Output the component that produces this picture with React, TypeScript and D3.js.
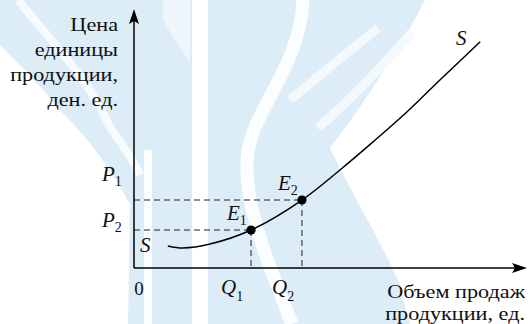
import React from "react";
import * as d3 from "d3";

// Supply curve S, in quantity / price units
const supplyQ = [0.89, 1.29, 2.0, 3.08, 4.42, 5.42, 6.29, 7.18, 8.05, 9.11];
const supplyP = [0.85, 0.77, 0.92, 1.46, 2.615, 3.77, 4.85, 6.0, 7.23, 8.7];

// Equilibrium points E1, E2
const eqNames = ["1", "2"];
const eqQ = [3.08, 4.42];
const eqP = [1.46, 2.615];

// Axis captions
const yCaption = ["Цена", "единицы", "продукции,", "ден. ед."];
const xCaption = ["Объем продаж", "продукции, ед."];

const W = 528;
const H = 324;
const BG = "#dcedf7";
const SERIF = '"Liberation Serif", "DejaVu Serif", "Times New Roman", serif';

export default function App() {
  const x = d3.scaleLinear().domain([0, 10]).range([134, 514]);
  const y = d3.scaleLinear().domain([0, 10]).range([268, 8]);

  const pts: [number, number][] = supplyQ.map((q, i) => [x(q), y(supplyP[i])]);
  const line = d3.line().curve(d3.curveCatmullRom.alpha(0.5));
  const sPath = line(pts) || "";

  const x0 = x(0);
  const y0 = y(0);
  const wide = 1.17;
  const ink = "#111";

  return (
    <svg
      width={W}
      height={H}
      viewBox={`0 0 ${W} ${H}`}
      style={{ position: "absolute", left: 0, top: 0, background: "#fff", fontFamily: SERIF }}
    >
      {/* background emblem */}
      <g>
        <path
          d="M0,0 L425,0 C405,40 360,110 330,148 C350,190 380,240 398,280 L410,324 L128,324 L130,205 C115,175 90,140 60,110 C40,85 15,60 0,45 Z"
          fill={BG}
        />
        <path
          d="M18,0 C50,40 90,80 110,127 C122,145 134,160 140,175"
          fill="none"
          stroke="#f6fbfe"
          strokeWidth={8}
        />
        <rect x={192} y={0} width={16} height={H} fill="#fff" />
        <rect x={144} y={150} width={8} height={H - 150} fill="#fbfdff" />
        <path d="M163,0 L190,0 L190,63 L175,40 L163,20 Z" fill="#eef6fb" />
        <path
          d="M303,0 C300,70 250,110 247,160 C245,210 268,262 292,324"
          fill="none"
          stroke="#fbfdfe"
          strokeWidth={13}
        />
        <path d="M290,100 C320,75 345,55 378,28" fill="none" stroke="#f4f9fc" strokeWidth={9} />
        <path d="M318,128 C350,100 380,70 412,32" fill="none" stroke="#f4f9fc" strokeWidth={9} />
      </g>

      {/* dashed guides */}
      {eqQ.map((q, i) => (
        <g key={`g${i}`} stroke="#222" strokeWidth={1} strokeDasharray="6,4" fill="none">
          <line x1={x0} y1={y(eqP[i])} x2={x(q)} y2={y(eqP[i])} />
          <line x1={x(q)} y1={y(eqP[i])} x2={x(q)} y2={y0} />
        </g>
      ))}

      {/* axes */}
      <line x1={x0} y1={y0} x2={x0} y2={18} stroke="#000" strokeWidth={1.5} />
      <path d={`M${x0},9 L${x0 + 5},24 L${x0},21 L${x0 - 5},24 Z`} fill="#000" />
      <line x1={x0} y1={y0} x2={518} y2={y0} stroke="#000" strokeWidth={1.5} />
      <path d={`M527,${y0} L512,${y0 - 5} L515,${y0} L512,${y0 + 5} Z`} fill="#000" />

      {/* supply curve */}
      <path d={sPath} fill="none" stroke="#000" strokeWidth={1.5} />

      {/* equilibrium dots */}
      {eqQ.map((q, i) => (
        <circle key={`c${i}`} cx={x(q)} cy={y(eqP[i])} r={4.6} fill="#000" />
      ))}

      {/* axis captions */}
      {yCaption.map((t, i) => (
        <text
          key={`yc${i}`}
          transform={`translate(118,${31 + i * 25}) scale(${wide},1)`}
          textAnchor="end"
          style={{ fontFamily: SERIF, fontSize: 19 }}
          fill={ink}
        >
          {t}
        </text>
      ))}
      {xCaption.map((t, i) => (
        <text
          key={`xc${i}`}
          transform={`translate(525,${298 + i * 22}) scale(${wide},1)`}
          textAnchor="end"
          style={{ fontFamily: SERIF, fontSize: 19 }}
          fill={ink}
        >
          {t}
        </text>
      ))}

      {/* origin */}
      <text x={139} y={295} textAnchor="middle" style={{ fontFamily: SERIF, fontSize: 19 }} fill={ink}>
        0
      </text>

      {/* price labels */}
      {eqP.map((p, i) => (
        <text
          key={`p${i}`}
          x={102}
          y={y(p) - (i === 1 ? 19 : 3)}
          style={{ fontFamily: SERIF, fontSize: 21 }}
          fill={ink}
        >
          <tspan fontStyle="italic">P</tspan>
          <tspan fontSize={14} dy={5}>
            {eqNames[1 - i]}
          </tspan>
        </text>
      ))}

      {/* quantity labels */}
      {eqQ.map((q, i) => (
        <text key={`q${i}`} x={x(q) - 30} y={294} style={{ fontFamily: SERIF, fontSize: 21 }} fill={ink}>
          <tspan fontStyle="italic">Q</tspan>
          <tspan fontSize={14} dy={7}>
            {eqNames[i]}
          </tspan>
        </text>
      ))}

      {/* equilibrium labels */}
      {eqQ.map((q, i) => (
        <text
          key={`e${i}`}
          x={x(q) - 24}
          y={y(eqP[i]) - 10}
          style={{ fontFamily: SERIF, fontSize: 21 }}
          fill={ink}
        >
          <tspan fontStyle="italic">E</tspan>
          <tspan fontSize={14} dy={5}>
            {eqNames[i]}
          </tspan>
        </text>
      ))}

      {/* curve labels */}
      <text x={140} y={252} style={{ fontFamily: SERIF, fontSize: 21, fontStyle: "italic" }} fill={ink}>
        S
      </text>
      <text x={456} y={45} style={{ fontFamily: SERIF, fontSize: 21, fontStyle: "italic" }} fill={ink}>
        S
      </text>
    </svg>
  );
}
